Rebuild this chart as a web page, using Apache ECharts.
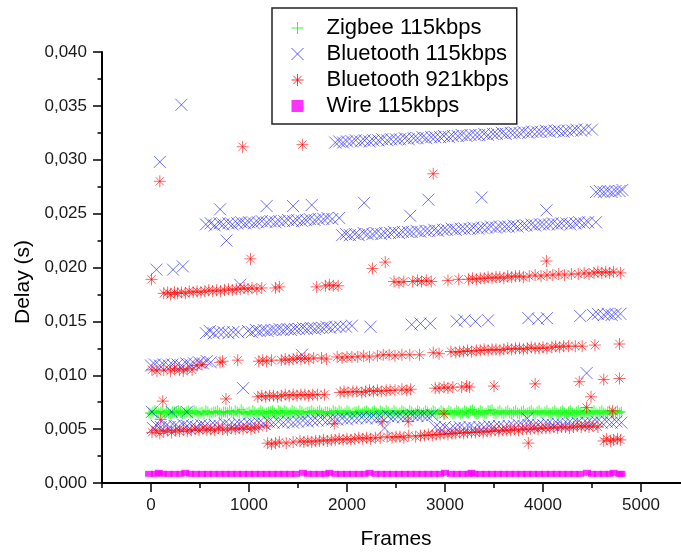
<!DOCTYPE html>
<html>
<head>
<meta charset="utf-8">
<script src="https://cdn.jsdelivr.net/npm/echarts@6/dist/echarts.min.js"></script>
<style>
html, body { margin: 0; padding: 0; background: #fff; }
#chart { width: 681px; height: 552px; }
</style>
</head>
<body>
<div id="chart"></div>
<script>
// values, [frame, delay in ms]
var xTicks = [0, 1000, 2000, 3000, 4000, 5000];
var xMinorTicks = [-500, 500, 1500, 2500, 3500, 4500];
var seriesNames = ['Zigbee 115kbps', 'Bluetooth 115kbps', 'Bluetooth 921kbps', 'Wire 115kbps'];

var zigbee = [
  [-20,6.5],[20,6.6],[60,6.5],[100,6.6],[140,6.4],[180,6.5],[220,6.6],[260,6.5],[300,6.6],[340,6.5],[380,6.7],[420,6.5],
  [460,6.6],[500,6.5],[540,6.4],[580,6.6],[620,6.5],[660,6.6],[700,6.5],[740,6.6],[780,6.5],[820,6.6],[860,6.7],[900,6.5],
  [940,6.6],[980,6.5],[1020,6.4],[1060,6.6],[1100,6.5],[1140,6.6],[1180,6.5],[1220,6.6],[1260,6.5],[1300,6.7],[1340,6.5],
  [1380,6.6],[1420,6.5],[1460,6.6],[1500,6.4],[1540,6.6],[1580,6.5],[1620,6.6],[1660,6.5],[1700,6.6],[1740,6.5],[1780,6.6],
  [1820,6.5],[1860,6.7],[1900,6.5],[1940,6.6],[1980,6.5],[2020,6.6],[2060,6.5],[2100,6.6],[2140,6.4],[2180,6.6],[2220,6.5],
  [2260,6.6],[2300,6.5],[2340,6.7],[2380,6.5],[2420,6.6],[2460,6.5],[2500,6.6],[2540,6.5],[2580,6.6],[2620,6.4],[2660,6.6],
  [2700,6.5],[2740,6.6],[2780,6.5],[2820,6.6],[2860,6.5],[2900,6.6],[2940,6.5],[2980,6.6],[3020,6.5],[3060,6.6],[3100,6.5],
  [3140,6.6],[3180,6.5],[3220,6.6],[3260,6.7],[3300,6.6],[3340,6.5],[3380,6.6],[3420,6.5],[3460,6.7],[3500,6.5],[3540,6.6],
  [3580,6.5],[3620,6.6],[3660,6.5],[3700,6.6],[3740,6.5],[3780,6.6],[3820,6.4],[3860,6.6],[3900,6.5],[3940,6.6],[3980,6.5],
  [4020,6.6],[4060,6.5],[4100,6.6],[4140,6.5],[4180,6.6],[4220,6.5],[4260,6.6],[4300,6.5],[4340,6.6],[4380,6.5],[4420,6.6],
  [4460,6.5],[4500,6.6],[4540,6.5],[4580,6.6],[4620,6.5],[4660,6.6],[4700,6.5],[4740,6.6],[4780,6.5]
];

var zigbeeMore = [
  [0,6.4],[40,6.7],[80,6.5],[120,6.6],[160,6.7],[200,6.4],[240,6.6],[280,6.7],[320,6.4],[360,6.6],[400,6.5],[440,6.7],
  [480,6.4],[520,6.6],[560,6.7],[600,6.4],[640,6.6],[680,6.7],[720,6.4],[760,6.6],[800,6.7],[840,6.4],[880,6.6],[920,6.8],
  [960,6.4],[1000,6.6],[1040,6.7],[1080,6.4],[1120,6.7],[1160,6.4],[1200,6.6],[1240,6.7],[1280,6.4],[1320,6.6],[1360,6.7],
  [1400,6.4],[1440,6.7],[1480,6.5],[1520,6.7],[1560,6.4],[1600,6.6],[1640,6.7],[1680,6.4],[1720,6.7],[1760,6.4],[1800,6.6],
  [1840,6.4],[1880,6.6],[1920,6.7],[1960,6.4],[2000,6.7],[2040,6.4],[2080,6.6],[2120,6.7],[2160,6.5],[2200,6.7],[2240,6.4],
  [2280,6.7],[2320,6.4],[2360,6.6],[2400,6.7],[2440,6.4],[2480,6.7],[2520,6.4],[2560,6.7],[2600,6.5],[2640,6.7],[2680,6.4],
  [2720,6.7],[2760,6.4],[2800,6.7],[2840,6.4],[2880,6.7],[2920,6.4],[2960,6.7],[3000,6.4],[3040,6.7],[3080,6.4],[3120,6.7],
  [3160,6.4],[3200,6.7],[3240,6.5],[3280,6.8],[3320,6.4],[3360,6.7],[3400,6.4],[3440,6.7],[3480,6.8],[3520,6.4],[3560,6.7],
  [3600,6.4],[3640,6.7],[3680,6.4],[3720,6.7],[3760,6.4],[3800,6.7],[3840,6.5],[3880,6.7],[3920,6.4],[3960,6.7],[4000,6.4],
  [4040,6.7],[4080,6.4],[4120,6.7],[4160,6.4],[4200,6.7],[4240,6.4],[4280,6.7],[4320,6.4],[4360,6.7],[4400,6.4],[4440,6.7],
  [4480,6.4],[4520,6.7],[4560,6.4],[4600,6.7],[4640,6.4],[4680,6.7],[4720,6.4],[4760,6.7],[4800,6.6]
];

var btSlowLow = [
  [20,5.1],[60,5.3],[100,5.2],[150,5.3],[190,5.2],[240,5.3],[280,5.2],[330,5.4],[370,5.3],[420,5.3],[460,5.2],[510,5.4],
  [550,5.3],[600,5.3],[650,5.4],[700,5.3],[750,5.5],[800,5.4],[850,5.4],[900,5.5],[950,5.4],[1000,5.5],[1050,5.5],[1100,5.6],
  [1150,5.5],[1200,5.7],[1250,5.6],[1300,5.7],[1350,5.6],[1400,5.7],[1450,5.6],[1500,5.7],[1550,5.8],[1600,5.7],[1650,5.8],
  [1700,5.8],[1750,5.9],[1800,5.8],[1850,5.9],[1900,5.9],[1950,6.0],[2000,5.9],[2050,6.0],[2100,6.0],[2150,6.1],[2200,6.0],
  [2250,6.1],[2300,6.0],[2350,6.1],[2420,6.2],[2470,6.1],[2520,6.2],[2570,6.1],[2620,6.2],[2670,6.3],[2720,6.2],[2770,6.3],
  [2820,6.2],[2870,6.3],
  [2900,5.2],[2950,5.1],[3000,5.2],[3050,5.0],[3100,5.1],[3150,5.2],[3200,5.1],[3250,5.2],[3300,5.1],[3350,5.2],[3400,5.2],
  [3450,5.3],[3500,5.2],[3550,5.3],[3600,5.2],[3650,5.3],[3700,5.3],[3750,5.4],[3800,5.3],[3850,5.4],[3900,5.3],[3950,5.4],
  [4000,5.4],[4050,5.5],[4100,5.4],[4150,5.5],[4200,5.4],[4250,5.5],[4300,5.5],[4350,5.6],[4400,5.5],[4450,5.6],[4500,5.6],
  [4550,5.7],[4600,5.6],[4650,5.7],[4700,5.6],[4750,5.7],[4800,5.6],
  [10,6.6],[210,6.6],[365,6.6],[2383,5.1],[3840,6.0],[940,8.8],[1540,11.9],[4445,10.2]
];

var btSlowMid = [
  [0,10.9],[40,11.0],[90,10.9],[130,11.0],[180,10.9],[220,11.0],[270,11.0],[310,10.9],[360,11.1],[400,11.0],[440,11.1],
  [490,11.2],[530,11.1],[570,11.3],[610,11.2],
  [560,13.9],[600,14.1],[640,13.9],[690,14.0],[740,14.0],[790,13.9],[840,14.0],[890,14.0],
  [990,14.1],[1030,14.0],[1070,14.2],[1110,14.1],[1150,14.2],[1190,14.1],[1230,14.2],[1270,14.2],[1310,14.3],[1350,14.2],
  [1390,14.3],[1430,14.2],[1470,14.3],[1510,14.3],[1550,14.4],[1590,14.3],[1630,14.4],[1670,14.3],[1710,14.4],[1750,14.4],
  [1790,14.5],[1830,14.4],[1880,14.5],[1930,14.5],[1990,14.5],[2050,14.6],[2240,14.5],
  [2660,14.7],[2750,14.8],[2850,14.8],[3120,15.0],[3200,15.1],[3310,15.0],[3440,15.1],[3850,15.3],[3950,15.2],[4040,15.3],
  [4380,15.5],[4510,15.6],[4560,15.7],[4620,15.6],[4660,15.7],[4700,15.6],[4740,15.7],[4790,15.7]
];

var btSlowHigh = [
  [560,24.0],[610,24.1],[650,23.9],[700,24.1],[740,24.0],[790,24.1],[830,24.0],[880,24.1],[920,24.2],[960,24.1],[1000,24.2],
  [1050,24.1],[1090,24.2],[1130,24.3],[1180,24.2],[1220,24.3],[1270,24.2],[1310,24.3],[1360,24.3],[1400,24.4],[1450,24.3],
  [1490,24.4],[1540,24.3],[1580,24.4],[1620,24.5],[1670,24.4],[1710,24.5],[1760,24.5],[1800,24.6],[1850,24.5],[1920,24.6],
  [1950,23.0],[1990,23.1],[2030,23.0],[2080,23.1],[2120,23.0],[2170,23.2],[2210,23.1],[2260,23.1],[2300,23.2],[2350,23.1],
  [2390,23.2],[2440,23.2],[2480,23.3],[2530,23.2],[2570,23.3],[2620,23.3],[2660,23.3],[2710,23.4],[2750,23.3],[2800,23.4],
  [2840,23.4],[2890,23.5],[2930,23.4],[2980,23.5],[3020,23.5],[3070,23.6],[3110,23.5],[3160,23.6],[3200,23.6],[3250,23.6],
  [3290,23.7],[3340,23.6],[3380,23.7],[3430,23.7],[3470,23.8],[3520,23.7],[3560,23.8],[3610,23.8],[3650,23.8],[3700,23.9],
  [3740,23.8],[3790,23.9],[3830,23.9],[3880,24.0],[3920,23.9],[3970,24.0],[4010,24.0],[4060,24.0],[4100,24.1],[4150,24.0],
  [4190,24.1],[4240,24.1],[4280,24.0],[4330,24.1],[4370,24.2],[4420,24.1],[4460,24.2],[4540,24.2],
  [4540,27.0],[4580,27.1],[4620,27.0],[4660,27.1],[4700,27.0],[4740,27.1],[4780,27.1],[4810,27.2],
  [1880,31.6],[1920,31.7],[1960,31.6],[2000,31.7],[2050,31.7],[2090,31.8],[2140,31.7],[2180,31.8],[2230,31.7],[2270,31.8],
  [2320,31.8],[2360,31.9],[2410,31.8],[2450,31.9],[2500,31.9],[2540,31.9],[2590,32.0],[2630,31.9],[2680,32.0],[2720,32.0],
  [2770,32.1],[2810,32.0],[2860,32.1],[2900,32.1],[2950,32.1],[2990,32.2],[3040,32.1],[3080,32.2],[3130,32.2],[3170,32.3],
  [3220,32.2],[3260,32.3],[3310,32.3],[3350,32.3],[3400,32.4],[3440,32.3],[3490,32.4],[3530,32.4],[3580,32.5],[3620,32.4],
  [3670,32.5],[3710,32.5],[3760,32.5],[3800,32.6],[3850,32.5],[3890,32.6],[3940,32.6],[3980,32.6],[4030,32.7],[4070,32.6],
  [4120,32.7],[4160,32.7],[4210,32.6],[4250,32.7],[4300,32.7],[4340,32.8],[4390,32.7],[4430,32.8],[4500,32.8],
  [705,25.4],[770,22.5],[1180,25.7],[1450,25.7],[1640,25.8],[2175,26.0],[56,19.8],[225,19.8],[325,20.1],[90,29.8],
  [310,35.1],[910,18.4],[2645,24.8],[2830,26.3],[3375,26.5],[4035,25.3]
];

var btFastLow = [
  [10,4.7],[50,4.9],[90,4.6],[130,4.8],[170,4.9],[210,4.7],[250,4.9],[290,4.8],[330,5.0],[370,4.8],[410,4.9],[450,5.0],
  [490,4.9],[530,5.1],[570,4.9],[610,5.0],[650,4.9],[690,5.1],[730,5.0],[780,4.9],[820,5.1],[860,5.0],[900,5.1],[940,5.0],
  [980,5.2],[1020,5.0],[1060,5.1],[1100,5.2],[1180,5.3],
  [1190,3.7],[1230,3.6],[1270,3.7],[1310,3.8],[1380,3.7],[1450,3.8],[1520,3.9],[1560,3.8],[1600,3.9],[1640,3.8],[1680,3.9],
  [1720,3.9],[1760,4.0],[1800,3.9],[1840,4.0],[1880,4.0],[1920,4.1],[1960,4.0],[2000,4.1],[2040,4.0],[2080,4.1],[2120,4.2],
  [2160,4.1],[2200,4.2],[2240,4.1],[2290,4.2],[2340,4.2],[2410,4.3],[2460,4.2],[2500,4.3],[2540,4.3],[2580,4.2],[2630,4.4],
  [2700,4.3],[2750,4.4],[2790,4.4],[2830,4.5],[2870,4.4],[2910,4.5],[2950,4.5],[2990,4.6],[3030,4.5],[3070,4.6],[3110,4.6],
  [3150,4.7],[3190,4.6],[3230,4.7],[3270,4.7],[3310,4.7],[3350,4.8],[3390,4.7],[3430,4.8],[3470,4.8],[3510,4.9],[3550,4.8],
  [3590,4.9],[3630,4.9],[3670,4.9],[3710,5.0],[3750,4.9],[3790,5.0],[3830,5.0],[3870,5.0],[3910,5.1],[3950,5.0],[3990,5.1],
  [4030,5.1],[4070,5.1],[4110,5.2],[4150,5.1],[4190,5.2],[4230,5.2],[4270,5.1],[4310,5.2],[4350,5.3],[4390,5.2],[4430,5.3],
  [4470,5.2],[4510,5.3],[4560,5.2],
  [4620,3.9],[4650,4.1],[4690,3.9],[4720,4.0],[4760,4.1],[4790,4.0],
  [4445,7.0],[4710,6.7],[2990,6.4],[100,5.9],[2360,5.7],[2625,5.7],[1870,5.5],[3850,3.7]
];

var btFastMid = [
  [1090,8.0],[1130,8.1],[1170,8.0],[1210,8.1],[1250,8.1],[1290,8.0],[1330,8.1],[1370,8.2],[1410,8.1],[1450,8.2],[1490,8.1],
  [1530,8.2],[1570,8.2],[1610,8.1],[1650,8.2],[1700,8.2],[1770,8.2],
  [1930,8.4],[1970,8.5],[2010,8.4],[2060,8.5],[2100,8.5],[2150,8.4],[2190,8.5],[2230,8.6],[2270,8.5],[2310,8.6],[2350,8.5],
  [2400,8.6],[2440,8.6],[2490,8.6],[2560,8.7],[2610,8.6],[2650,8.7],
  [2900,8.8],[2940,8.8],[2990,8.9],[3030,8.8],[3080,8.9],[3170,8.9],[3220,9.0],[3250,8.9],
  [3500,9.0],[3920,9.2],[4370,9.4],[4620,9.6],[4780,9.7],[120,7.6],[765,7.8],[4490,8.0],
  [10,10.5],[60,10.4],[130,10.5],[200,10.4],[240,10.6],[290,10.5],[330,10.4],[370,10.6],[420,10.5],[470,10.9],[520,11.0],
  [705,11.2],[730,11.3],[885,11.4],[1100,11.3],[1140,11.4],[1180,11.3],[1230,11.4],[1330,11.4],[1370,11.5],[1410,11.4],
  [1450,11.5],[1490,11.6],[1530,11.5],[1570,11.6],[1610,11.5],[1660,11.6],[1740,11.6],[1790,11.5],[1900,11.7],[1950,11.6],
  [2000,11.7],[2050,11.7],[2110,11.7],[2170,11.8],[2230,11.7],[2310,11.8],[2370,11.9],[2430,11.9],[2490,11.8],[2560,11.9],
  [2640,11.9],[2740,11.9],[2880,12.1],[2940,12.0],[3060,12.2],[3110,12.1],[3150,12.2],[3190,12.2],[3230,12.3],[3270,12.2],
  [3320,12.3],[3360,12.3],[3400,12.4],[3440,12.3],[3480,12.4],[3520,12.4],[3560,12.3],[3600,12.4],[3640,12.5],[3680,12.4],
  [3720,12.5],[3760,12.5],[3800,12.4],[3840,12.5],[3880,12.6],[3920,12.5],[3960,12.5],[4000,12.6],[4040,12.5],[4090,12.6],
  [4130,12.7],[4170,12.6],[4210,12.7],[4260,12.7],[4330,12.7],[4400,12.7],[4530,12.8],[4780,12.9]
];

var btFastHigh = [
  [130,17.6],[170,17.7],[200,17.5],[240,17.7],[270,17.6],[310,17.7],[350,17.6],[390,17.8],[430,17.7],[470,17.8],[510,17.7],
  [550,17.8],[590,17.9],[630,17.8],[670,17.9],[710,17.8],[750,17.9],[790,18.0],[830,17.9],[870,18.0],[910,18.0],[950,18.1],
  [990,18.0],[1030,18.1],[1080,18.0],[1130,18.1],
  [1270,18.1],[1310,18.2],[1690,18.2],[1780,18.3],[1820,18.4],[1860,18.3],[1910,18.3],
  [2480,18.7],[2530,18.6],[2580,18.7],[2670,18.7],[2720,18.8],[2760,18.7],[2810,18.8],[2860,18.7],[3030,18.8],[3140,18.9],
  [3240,18.9],[3280,19.0],[3320,18.9],[3360,19.0],[3400,19.0],[3440,19.1],[3480,19.0],[3520,19.1],[3560,19.1],[3600,19.0],
  [3640,19.2],[3680,19.1],[3720,19.2],[3760,19.2],[3800,19.1],[3860,19.2],[3920,19.3],[3980,19.2],[4040,19.3],[4100,19.3],
  [4160,19.4],[4220,19.3],[4290,19.4],[4360,19.4],[4420,19.5],[4470,19.4],[4520,19.5],[4560,19.6],[4600,19.5],[4640,19.6],
  [4680,19.5],[4720,19.6],[4790,19.5],
  [5,18.9],[90,28.0],[935,31.2],[1545,31.4],[1015,20.8],[2260,19.9],[2390,20.5],[2880,28.7],[4035,20.6]
];

var wire = [
  [-20,0.85],[40,0.85],[80,0.95],[120,0.85],[180,0.85],[240,0.85],[300,0.85],[350,0.95],[400,0.85],[460,0.85],[520,0.85],
  [580,0.85],[640,0.85],[700,0.85],[760,0.85],[820,0.85],[880,0.85],[940,0.85],[1000,0.85],[1060,0.85],[1120,0.85],
  [1180,0.85],[1240,0.85],[1300,0.85],[1360,0.85],[1420,0.85],[1480,0.85],[1550,0.95],[1600,0.85],[1660,0.85],[1720,0.85],
  [1780,0.85],[1820,0.95],[1880,0.85],[1940,0.85],[2000,0.85],[2060,0.85],[2120,0.85],[2180,0.85],[2230,0.95],[2290,0.85],
  [2350,0.85],[2410,0.85],[2470,0.85],[2530,0.85],[2590,0.85],[2650,0.85],[2710,0.85],[2770,0.85],[2830,0.85],[2890,0.85],
  [2950,0.85],[3000,0.95],[3060,0.85],[3120,0.85],[3180,0.85],[3240,0.85],[3270,0.95],[3300,0.85],[3360,0.85],[3420,0.85],
  [3480,0.85],[3540,0.85],[3600,0.85],[3660,0.85],[3720,0.85],[3780,0.85],[3840,0.85],[3900,0.85],[3960,0.85],[4020,0.85],
  [4080,0.85],[4140,0.85],[4200,0.85],[4260,0.85],[4320,0.85],[4380,0.85],[4450,0.95],[4500,0.85],[4560,0.85],[4620,0.85],
  [4680,0.85],[4720,0.95],[4780,0.85],[4800,0.85]
];

var plusPath = 'path://M5,0L5,10M0,5L10,5';
var crossPath = 'path://M0,0L10,10M10,0L0,10';
var starPath = 'path://M5,0L5,10M0,5L10,5M1.5,1.5L8.5,8.5M8.5,1.5L1.5,8.5';
var squarePath = 'path://M0,0L10,0L10,10L0,10Z';
var font = '"Liberation Sans", Arial, sans-serif';

var myChart = echarts.init(document.getElementById('chart'), null, { renderer: 'canvas' });

myChart.setOption({
    animation: false,
    backgroundColor: '#fff',
    grid: {
        left: 102,
        right: -9,
        top: 52,
        bottom: 69,
        outerBoundsMode: 'none'
    },
    legend: {
        orient: 'vertical',
        left: 272,
        top: 8,
        padding: [9, 8, 7, 19],
        itemWidth: 48,
        itemHeight: 12,
        itemGap: 4,
        backgroundColor: '#fff',
        borderColor: '#222',
        borderWidth: 1.5,
        borderRadius: 0,
        textStyle: { fontFamily: font, fontSize: 22, lineHeight: 20, color: '#000' },
        data: [
            { name: seriesNames[0], icon: plusPath, itemStyle: { color: '#00ff00', borderColor: '#00ff00', borderWidth: 1 } },
            { name: seriesNames[1], icon: crossPath, itemStyle: { color: '#3333ff', borderColor: '#3333ff', borderWidth: 1 } },
            { name: seriesNames[2], icon: starPath, itemStyle: { color: '#ff0000', borderColor: '#ff0000', borderWidth: 1 } },
            { name: seriesNames[3], icon: squarePath, itemStyle: { color: '#ff00ff', borderColor: '#ff00ff', borderWidth: 0 } }
        ]
    },
    xAxis: [
        {
            type: 'value',
            min: -500,
            max: 5500,
            position: 'bottom',
            name: 'Frames',
            nameLocation: 'middle',
            nameGap: 46,
            nameTextStyle: { fontFamily: font, fontSize: 21, color: '#000' },
            axisLine: { show: true, onZero: false, lineStyle: { color: '#000', width: 2 } },
            axisTick: { show: true, customValues: xTicks, length: 9, lineStyle: { color: '#000', width: 1.5 } },
            axisLabel: {
                customValues: xTicks,
                margin: 14,
                fontFamily: font,
                fontSize: 17,
                color: '#1a1a1a',
                formatter: function (v) { return String(v); }
            },
            splitLine: { show: false }
        },
        {
            type: 'value',
            min: -500,
            max: 5500,
            position: 'bottom',
            offset: 0,
            axisLine: { show: false },
            axisTick: { show: true, customValues: xMinorTicks, length: 5, lineStyle: { color: '#000', width: 1.5 } },
            axisLabel: { show: false },
            splitLine: { show: false }
        }
    ],
    yAxis: {
        type: 'value',
        min: 0,
        max: 40,
        interval: 5,
        axisLine: { show: true, onZero: false, lineStyle: { color: '#000', width: 2 } },
        axisTick: { show: true, length: 9, lineStyle: { color: '#000', width: 1.5 } },
        minorTick: { show: true, splitNumber: 2, length: 4.5, lineStyle: { color: '#000', width: 1.5 } },
        axisLabel: {
            margin: 15,
            fontFamily: font,
            fontSize: 17,
            color: '#1a1a1a',
            formatter: function (v) { return (v / 1000).toFixed(3).replace('.', ','); }
        },
        splitLine: { show: false }
    },
    graphic: [
        {
            type: 'text',
            x: 23,
            y: 282,
            rotation: Math.PI / 2,
            style: {
                text: 'Delay (s)',
                font: '21px ' + font,
                fill: '#000',
                textAlign: 'center',
                textVerticalAlign: 'middle'
            }
        }
    ],
    series: [
        {
            name: seriesNames[0],
            type: 'scatter',
            symbol: plusPath,
            symbolSize: [8, 11],
            itemStyle: { color: 'rgba(0,255,0,0.85)', borderColor: 'rgba(0,255,0,0.85)', borderWidth: 1.3 },
            data: zigbee.concat(zigbeeMore)
        },
        {
            name: seriesNames[1],
            type: 'scatter',
            symbol: crossPath,
            symbolSize: 12,
            itemStyle: { color: 'rgba(0,0,255,0.7)', borderColor: 'rgba(0,0,255,0.7)', borderWidth: 1 },
            data: btSlowLow.concat(btSlowMid, btSlowHigh)
        },
        {
            name: seriesNames[2],
            type: 'scatter',
            symbol: starPath,
            symbolSize: 12,
            itemStyle: { color: 'rgba(255,0,0,0.75)', borderColor: 'rgba(255,0,0,0.75)', borderWidth: 1 },
            data: btFastLow.concat(btFastMid, btFastHigh)
        },
        {
            name: seriesNames[3],
            type: 'scatter',
            symbol: 'rect',
            symbolSize: [8, 6],
            itemStyle: { color: '#ff00ff' },
            data: wire
        }
    ]
});
</script>
</body>
</html>
